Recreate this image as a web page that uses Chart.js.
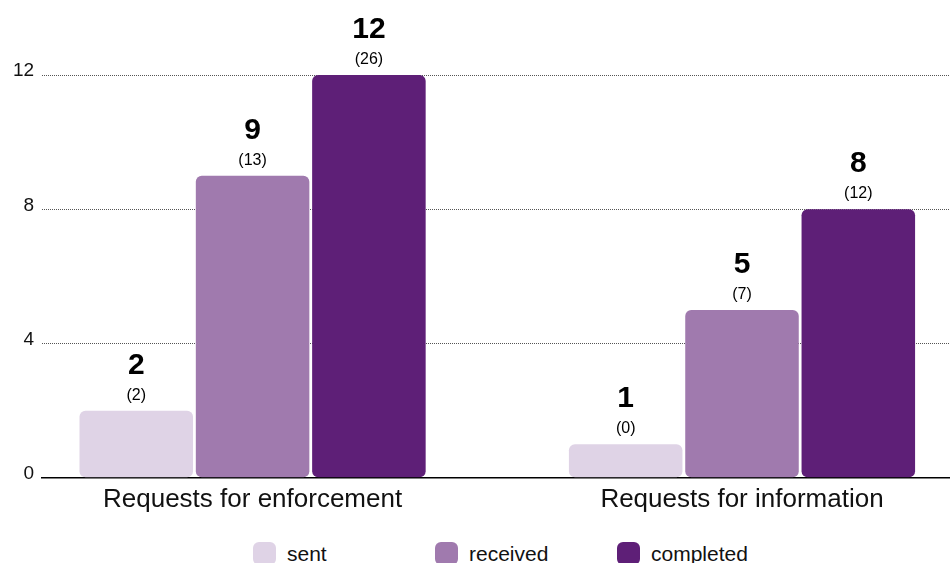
<!DOCTYPE html>
<html>
<head>
<meta charset="utf-8">
<script src="https://cdn.jsdelivr.net/npm/chart.js@4/dist/chart.umd.min.js"></script>
<style>
  html, body { margin: 0; padding: 0; background: #fff; overflow: hidden; }
  #wrap { position: relative; width: 950px; height: 563px; overflow: hidden; font-family: Arial, "Liberation Sans", sans-serif; }
  #box { position: absolute; left: 0; top: 0; width: 950px; height: 530px; }
  #legend { position: absolute; left: 253px; top: 542px; display: flex; }
  .item { width: 182px; display: flex; align-items: flex-start; }
  .sw { width: 23px; height: 23px; border-radius: 6px; flex: none; }
  .lbl { margin-left: 11px; font-size: 21px; line-height: 23px; color: #111; white-space: nowrap; }
</style>
</head>
<body>
<div id="wrap">
  <div id="box"><canvas id="c"></canvas></div>
  <div id="legend"></div>
</div>
<script>
const categories = ["Requests for enforcement", "Requests for information"];
const seriesNames = ["sent", "received", "completed"];
const sent = [2, 1];
const received = [9, 5];
const completed = [12, 8];
const sentTotals = [2, 0];
const receivedTotals = [13, 7];
const completedTotals = [26, 12];
const yTicks = [0, 4, 8, 12];
const colors = ["#DFD3E6", "#A07AAE", "#5E1F77"];

const values = [sent, received, completed];
const totals = [sentTotals, receivedTotals, completedTotals];

const datasets = values.map((arr, d) => ({
  label: seriesNames[d],
  data: arr.map((v, i) => ({ x: i, y: v })),
  backgroundColor: colors[d],
  borderRadius: 6,
  borderSkipped: false,
  barPercentage: 0.976,
  categoryPercentage: 0.713
}));

const labelPlugin = {
  id: 'barLabels',
  afterDatasetsDraw(chart) {
    const ctx = chart.ctx;
    ctx.save();
    ctx.textAlign = 'center';
    ctx.textBaseline = 'alphabetic';
    ctx.fillStyle = '#000';
    chart.data.datasets.forEach((ds, d) => {
      const meta = chart.getDatasetMeta(d);
      meta.data.forEach((bar, i) => {
        const top = bar.y;
        ctx.font = 'bold 30px Arial, "Liberation Sans", sans-serif';
        ctx.fillText(String(values[d][i]), bar.x, top - 37);
        ctx.font = '16px Arial, "Liberation Sans", sans-serif';
        ctx.fillText('(' + totals[d][i] + ')', bar.x, top - 11);
      });
    });
    ctx.restore();
  }
};

new Chart(document.getElementById('c'), {
  type: 'bar',
  data: { datasets },
  plugins: [labelPlugin],
  options: {
    responsive: true,
    maintainAspectRatio: false,
    animation: false,
    layout: { padding: { top: 75, left: 5, right: 0, bottom: 9 } },
    plugins: { legend: { display: false }, tooltip: { enabled: false } },
    scales: {
      x: {
        type: 'linear',
        offset: false,
        bounds: 'data',
        min: -0.43,
        max: 1.425,
        afterBuildTicks: (s) => { s.ticks = categories.map((c, i) => ({ value: i })); },
        ticks: {
          callback: (v) => categories[v],
          color: '#111',
          font: { family: 'Arial, "Liberation Sans", sans-serif', size: 26 },
          padding: 6,
          maxRotation: 0,
          autoSkip: false
        },
        grid: { display: false, drawTicks: false, offset: false },
        border: { display: true, color: '#000', width: 1.5 }
      },
      y: {
        min: 0,
        max: 12,
        afterBuildTicks: (s) => { s.ticks = yTicks.map(v => ({ value: v })); },
        ticks: {
          color: '#111',
          font: { family: 'Arial, "Liberation Sans", sans-serif', size: 19 },
          padding: 8,
          labelOffset: -4
        },
        grid: {
          drawTicks: false,
          color: (c) => c.tick && c.tick.value === 0 ? 'rgba(0,0,0,0)' : '#555',
          lineWidth: 1
        },
        border: { display: false, dash: [1, 1] }
      }
    }
  }
});

const legend = document.getElementById('legend');
seriesNames.forEach((n, i) => {
  const it = document.createElement('div');
  it.className = 'item';
  const sw = document.createElement('div');
  sw.className = 'sw';
  sw.style.background = colors[i];
  const lb = document.createElement('span');
  lb.className = 'lbl';
  lb.textContent = n;
  it.appendChild(sw);
  it.appendChild(lb);
  legend.appendChild(it);
});
</script>
</body>
</html>
